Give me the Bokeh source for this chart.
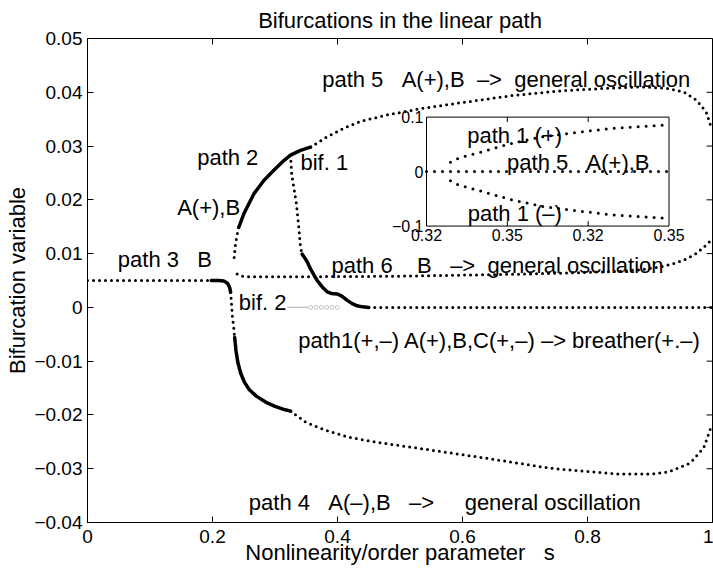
import re
from bokeh.plotting import figure
from bokeh.models import Range1d, FixedTicker
from bokeh.core.properties import value
from bokeh.embed import file_html
from bokeh.resources import INLINE

FONT = "Liberation Sans"

# ---------------- data ----------------
x_ticks = [0, 0.2, 0.4, 0.6, 0.8, 1.0]
x_tick_labels = ["0", "0.2", "0.4", "0.6", "0.8", "1"]
y_ticks = [-0.04, -0.03, -0.02, -0.01, 0, 0.01, 0.02, 0.03, 0.04, 0.05]
y_tick_labels = ["\u22120.04", "\u22120.03", "\u22120.02", "\u22120.01", "0",
                 "0.01", "0.02", "0.03", "0.04", "0.05"]

# path 3 (B): dotted plateau, then solid bend at bif. 2
path3_dot_x = [0.0, 0.05, 0.10, 0.15, 0.20]
path3_dot_y = [0.0050, 0.0050, 0.0050, 0.0050, 0.0050]
path3_sol_x = [0.198, 0.210, 0.218, 0.224, 0.2275, 0.2290]
path3_sol_y = [0.0050, 0.0050, 0.0049, 0.0045, 0.0037, 0.0028]

# path 4 (A(-),B)
path4_dot1_x = [0.2290, 0.2305, 0.2320, 0.2340, 0.2355]
path4_dot1_y = [0.0028, 0.0005, -0.0019, -0.0038, -0.0056]
path4_sol_x = [0.2355, 0.2375, 0.2405, 0.2450, 0.2510, 0.2590, 0.2700, 0.2850, 0.3000, 0.3150, 0.3250]
path4_sol_y = [-0.0056, -0.0080, -0.0102, -0.0122, -0.0139, -0.0153, -0.0165, -0.0176, -0.0184, -0.0190, -0.0193]
path4_dot2_x = [0.325, 0.35, 0.38, 0.42, 0.47, 0.53, 0.63, 0.74, 0.85, 0.90, 0.93, 0.965, 0.986, 0.997]
path4_dot2_y = [-0.0193, -0.0214, -0.0228, -0.0242, -0.0252, -0.0262, -0.0279, -0.0299, -0.0310,
                -0.0310, -0.0306, -0.0289, -0.0261, -0.0225]

# path 2 (A(+),B)
path2_dot_x = [0.2347, 0.2365, 0.2390, 0.2421]
path2_dot_y = [0.0093, 0.0115, 0.0133, 0.0149]
path2_sol_x = [0.2421, 0.2501, 0.2661, 0.2821, 0.2981, 0.3141, 0.3248, 0.3408, 0.3568]
path2_sol_y = [0.0149, 0.0174, 0.0211, 0.0236, 0.0255, 0.0273, 0.0283, 0.0292, 0.0298]

# path 5 (A(+),B -> general oscillation)
path5_x = [0.357, 0.38, 0.41, 0.437, 0.48, 0.53, 0.60, 0.68, 0.76, 0.84, 0.89, 0.93, 0.955,
           0.975, 0.99, 0.997]
path5_y = [0.0298, 0.0315, 0.0333, 0.0346, 0.0358, 0.0369, 0.0381, 0.0394, 0.0403, 0.0408,
           0.0410, 0.0407, 0.0400, 0.0385, 0.0363, 0.0338]

# path 6 (B -> general oscillation)
path6_x = [0.2395, 0.245, 0.26, 0.35, 0.50, 0.60, 0.70, 0.80, 0.85, 0.885, 0.92, 0.94, 0.96,
           0.975, 0.99, 0.998]
path6_y = [0.0062, 0.0058, 0.0057, 0.0057, 0.0058, 0.0060, 0.0062, 0.0065, 0.0067, 0.0070,
           0.0076, 0.0082, 0.0091, 0.0101, 0.0116, 0.0125]

# path 1 (breather), leaving bif. 1
path1_dot1_x = [0.3248, 0.3267, 0.3301, 0.3340, 0.3381, 0.3408, 0.3435]
path1_dot1_y = [0.0283, 0.0248, 0.0223, 0.0195, 0.0149, 0.0112, 0.0099]
path1_sol_x = [0.3435, 0.347, 0.3515, 0.357, 0.3625, 0.3675, 0.373, 0.378, 0.3835, 0.390,
               0.3995, 0.407, 0.4155, 0.4235, 0.4315, 0.440, 0.450]
path1_sol_y = [0.0099, 0.0093, 0.0085, 0.0071, 0.0060, 0.0050, 0.0042, 0.0035, 0.0029, 0.0026,
               0.0025, 0.0021, 0.0013, 0.0007, 0.0003, 0.0001, 0.0]
path1_dot2_x = [0.45, 0.60, 0.80, 1.0]
path1_dot2_y = [0.0, 0.0, 0.0, 0.0]

# faint grey trace near bif. 2
grey_line_x = [0.3195, 0.354]
grey_line_y = [0.0, 0.0]
grey_circ_x = [0.357, 0.3655, 0.374, 0.3825, 0.391, 0.3995]
grey_circ_y = [0.0, 0.0, 0.0, 0.0, 0.0, 0.0]

# inset
inset_x_range = [0.32, 0.41]
inset_y_range = [-0.1, 0.1]
inset_x_ticks = [0.32, 0.35, 0.38, 0.41]
inset_x_tick_labels = ["0.32", "0.35", "0.32", "0.35"]
inset_y_ticks = [0.1, 0.0, -0.1]
inset_y_tick_labels = ["0.1", "0", "\u22120.1"]
inset_p5_x = [0.32, 0.41]
inset_p5_y = [0.0, 0.0]
inset_p1p_x = [0.3289, 0.332, 0.339, 0.351, 0.363, 0.376, 0.388, 0.400, 0.410]
inset_p1p_y = [0.017, 0.025, 0.034, 0.051, 0.064, 0.072, 0.079, 0.083, 0.086]
inset_p1m_x = [0.3289, 0.332, 0.339, 0.351, 0.363, 0.376, 0.388, 0.400, 0.410]
inset_p1m_y = [-0.017, -0.025, -0.034, -0.051, -0.064, -0.072, -0.079, -0.083, -0.086]


def keep(s):
    """keep runs of spaces visible in SVG text"""
    return re.sub(r" {2,}", lambda m: "\u00a0" * len(m.group()), s)


# ---------------- figure ----------------
p = figure(width=713, height=575, x_range=Range1d(0, 1), y_range=Range1d(-0.04, 0.05),
           output_backend="svg", toolbar_location=None,
           min_border_left=87, min_border_right=1, min_border_top=38, min_border_bottom=53)
p.grid.visible = False
p.outline_line_color = "black"
p.outline_line_width = 1
p.background_fill_color = "white"
p.border_fill_color = "white"

p.title.text = "Bifurcations in the linear path"
p.title.align = "center"
p.title.text_font = FONT
p.title.text_font_size = "22px"
p.title.text_font_style = "normal"
p.title.text_color = "black"
p.title.standoff = 11

p.xaxis.ticker = FixedTicker(ticks=x_ticks)
p.xaxis.major_label_overrides = {t: l for t, l in zip(x_ticks, x_tick_labels)}
p.yaxis.ticker = FixedTicker(ticks=y_ticks)
p.yaxis.major_label_overrides = {t: l for t, l in zip(y_ticks, y_tick_labels)}
for ax in (p.xaxis[0], p.yaxis[0]):
    ax.major_tick_in = 6
    ax.major_tick_out = 0
    ax.minor_tick_in = 0
    ax.minor_tick_out = 0
    ax.axis_line_color = "black"
    ax.major_tick_line_color = "black"
    ax.major_label_text_font = FONT
    ax.major_label_text_font_size = "19px"
    ax.major_label_text_color = "black"
    ax.axis_label_text_font = FONT
    ax.axis_label_text_font_size = "22px"
    ax.axis_label_text_font_style = "normal"
    ax.axis_label_text_color = "black"
p.xaxis.axis_label = keep("Nonlinearity/order parameter   s")
p.yaxis.axis_label = "Bifurcation variable"
p.xaxis.major_label_standoff = 7
p.xaxis.axis_label_standoff = -6
p.yaxis.major_label_standoff = 5
p.yaxis.axis_label_standoff = 1

# inward tick marks on the top and right edges of the box
top_len = 0.09 / 484 * 6
right_len = 1.0 / 625 * 6
p.segment(x0=x_ticks, y0=[0.05] * len(x_ticks), x1=x_ticks, y1=[0.05 - top_len] * len(x_ticks),
          line_color="black", line_width=1)
p.segment(x0=[1.0] * len(y_ticks), y0=y_ticks, x1=[1.0 - right_len] * len(y_ticks), y1=y_ticks,
          line_color="black", line_width=1)

DOT = dict(color="black", line_width=3, line_dash="0 6", line_cap="round")
SOLID = dict(color="black", line_width=3.5, line_cap="round", line_join="round")

p.line(path3_dot_x, path3_dot_y, **DOT)
p.line(path3_sol_x, path3_sol_y, **SOLID)
p.line(path4_dot1_x, path4_dot1_y, **DOT)
p.line(path4_sol_x, path4_sol_y, **SOLID)
p.line(path4_dot2_x, path4_dot2_y, **DOT)
p.line(path2_dot_x, path2_dot_y, **DOT)
p.line(path2_sol_x, path2_sol_y, **SOLID)
p.line(path5_x, path5_y, **DOT)
p.line(path6_x, path6_y, **DOT)
p.line(path1_dot1_x, path1_dot1_y, **DOT)
p.line(path1_sol_x, path1_sol_y, **SOLID)
p.line(path1_dot2_x, path1_dot2_y, **DOT)
p.line(grey_line_x, grey_line_y, color="#c4c4c4", line_width=1.5)
p.scatter(grey_circ_x, grey_circ_y, marker="circle", size=4, fill_color=None,
          line_color="#c4c4c4", line_width=1)

TXT = dict(text_font=value(FONT), text_font_size="22px", text_color="black",
           text_baseline="alphabetic", text_align="left")
p.text(x=[0.3755], y=[0.0424], text=[keep("path 5   A(+),B  \u2013>  general oscillation")], **TXT)
p.text(x=[0.1755], y=[0.02793], text=["path 2"], **TXT)
p.text(x=[0.3408], y=[0.0270], text=["bif. 1"], **TXT)
p.text(x=[0.1435], y=[0.01862], text=["A(+),B"], **TXT)
p.text(x=[0.0485], y=[0.00883], text=[keep("path 3   B")], **TXT)
p.text(x=[0.3904], y=[0.00777], text=[keep("path 6    B   \u2013>  general oscillation")], **TXT)
p.text(x=[0.2421], y=[0.00093], text=["bif. 2"], **TXT)
p.text(x=[0.3371], y=[-0.0062],
       text=["path1(+,\u2013) A(+),B,C(+,\u2013) \u2013> breather(+.\u2013)"], **TXT)
p.text(x=[0.2581], y=[-0.03631],
       text=[keep("path 4   A(\u2013),B   \u2013>     general oscillation")], **TXT)

# ---------------- inset ----------------
ins = p.subplot(x_source=Range1d(*inset_x_range), y_source=Range1d(*inset_y_range),
                x_target=Range1d(0.5424, 0.9304), y_target=Range1d(0.01512, 0.03538))
ins.quad(left=[inset_x_range[0]], right=[inset_x_range[1]], bottom=[inset_y_range[0]],
         top=[inset_y_range[1]], fill_color="white", line_color="black", line_width=1)
ins.segment(x0=inset_x_ticks[1:3], y0=[inset_y_range[0]] * 2, x1=inset_x_ticks[1:3],
            y1=[inset_y_range[0] + 0.009] * 2, line_color="black", line_width=1)
ins.segment(x0=inset_x_ticks[1:3], y0=[inset_y_range[1]] * 2, x1=inset_x_ticks[1:3],
            y1=[inset_y_range[1] - 0.009] * 2, line_color="black", line_width=1)
IDOT = dict(color="black", line_width=3, line_dash="0 8", line_cap="round")
ins.line(inset_p5_x, inset_p5_y, **IDOT)
ins.line(inset_p1p_x, inset_p1p_y, **IDOT)
ins.line(inset_p1m_x, inset_p1m_y, **IDOT)
ins.text(x=inset_x_ticks, y=[inset_y_range[0]] * 4, text=inset_x_tick_labels,
         text_font=value(FONT), text_font_size="16px", text_color="black",
         text_align="center", text_baseline="top", y_offset=3)
ins.text(x=[inset_x_range[0]] * 3, y=inset_y_ticks, text=inset_y_tick_labels,
         text_font=value(FONT), text_font_size="16px", text_color="black",
         text_align="right", text_baseline="middle", x_offset=-3)
ins.text(x=[0.3351], y=[0.0664], text=["path 1 (+)"], **TXT)
ins.text(x=[0.3499], y=[0.0173], text=[keep("path 5   A(+),B")], **TXT)
ins.text(x=[0.3353], y=[-0.0776], text=["path 1 (\u2013)"], **TXT)

open("out.html", "w").write(file_html(p, INLINE))
